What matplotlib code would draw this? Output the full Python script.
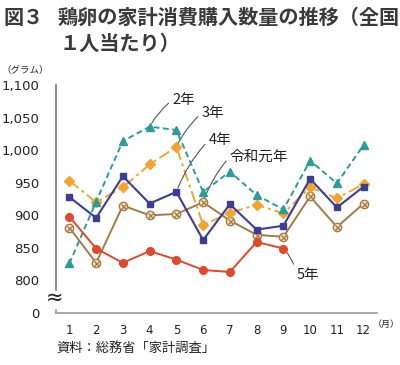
import numpy as np
import matplotlib.pyplot as plt

plt.rcParams['font.family'] = ['Noto Sans CJK JP', 'DejaVu Sans']

months = list(range(1, 13))
tick_labels = [str(m) for m in months]

# 鶏卵の家計消費購入数量（グラム）
r1 = [881, 827, 915, 900, 902, 920, 892, 870, 867, 929, 882, 918]      # 令和元年
r2 = [826, 921, 1014, 1036, 1031, 936, 967, 931, 909, 984, 949, 1008]  # 2年
r3 = [953, 920, 943, 978, 1005, 885, 904, 916, 903, 943, 926, 948]     # 3年
r4 = [928, 896, 960, 918, 936, 862, 917, 878, 884, 956, 912, 944]      # 4年
r5 = [898, 849, 827, 845, 832, 816, 813, 859, 849]                     # 5年

y_ticks = [750, 800, 850, 900, 950, 1000, 1050, 1100]
y_tick_labels = ['0', '800', '850', '900', '950', '1,000', '1,050', '1,100']

c2 = '#2b9c9a'
c3 = '#f2a52e'
c4 = '#3b3e94'
cr = '#a67a45'
c5 = '#e2482b'

fig = plt.figure(figsize=(4, 3.65), dpi=100)
ax = fig.add_axes([0.14, 0.1425, 0.8025, 0.6245])

ax.plot(months, r1, color=cr, lw=1.4, marker='o', ms=6, mfc='#f4e4c0', mec=cr, mew=1.0, zorder=3)
ax.plot(months, r1, ls='none', marker='x', ms=3.6, mec=cr, mew=1.0, zorder=4)
ax.plot(months, r3, color=c3, lw=1.4, ls=(0, (6, 2, 1.5, 2)), marker='D', ms=5, mec=c3, zorder=3)
ax.plot(months, r4, color=c4, lw=1.5, marker='s', ms=5, zorder=4)
ax.plot(months, r2, color=c2, lw=1.4, ls=(0, (3, 1.8)), marker='^', ms=5.5, zorder=5)
ax.plot(months[:len(r5)], r5, color=c5, lw=1.4, marker='o', ms=5.5, zorder=5)

ax.set_xlim(0.5, 12.5)
ax.set_ylim(750, 1100)
ax.set_xticks(months)
ax.set_xticklabels(tick_labels, fontsize=8.5, family='DejaVu Sans', color='#222')
ax.set_yticks(y_ticks)
ax.set_yticklabels(y_tick_labels, fontsize=9.5, family='DejaVu Sans', color='#222')
ax.tick_params(axis='both', length=0)
ax.tick_params(axis='y', pad=12)
ax.tick_params(axis='x', pad=8)

for s in ['top', 'right', 'left']:
    ax.spines[s].set_visible(False)
ax.spines['bottom'].set_color('#999999')
ax.spines['bottom'].set_linewidth(1.2)

# broken y axis
ax.plot([0, 0], [0.1, 1], transform=ax.transAxes, color='#777777', lw=1.2, clip_on=False)
ax.plot([0, 0], [0, 0.015], transform=ax.transAxes, color='#999999', lw=1.2, clip_on=False)
ax.text(-0.005, 0.065, '≈', transform=ax.transAxes, fontsize=15, family='DejaVu Sans',
        ha='center', va='center', color='#222')

# leader labels
lead = dict(arrowstyle='-', color='#555555', lw=0.8, shrinkA=1, shrinkB=3,
            relpos=(0, 0.5), connectionstyle='arc3,rad=0.1')
ax.annotate('2年', xy=(4, r2[3]), xytext=(4.85, 1077), fontsize=10.5, va='center',
            color='#222', arrowprops=lead, annotation_clip=False)
ax.annotate('3年', xy=(5, r3[4]), xytext=(5.95, 1057), fontsize=10.5, va='center',
            color='#222', arrowprops=lead)
ax.annotate('4年', xy=(5, r4[4]), xytext=(6.2, 1015), fontsize=10.5, va='center',
            color='#222', arrowprops=lead)
ax.annotate('令和元年', xy=(6, r1[5]), xytext=(7.0, 990), fontsize=10.5, va='center',
            color='#222', arrowprops=lead)
ax.annotate('5年', xy=(9, r5[8]), xytext=(9.5, 808), fontsize=10.5, va='center',
            color='#222', arrowprops=dict(lead, connectionstyle='arc3,rad=0.15'))

fig.text(0.008, 0.953, '図３', fontsize=14.5, weight='bold', color='#3a3a3a', va='center')
fig.text(0.145, 0.953, '鶏卵の家計消費購入数量の推移（全国', fontsize=14.5, weight='bold',
         color='#3a3a3a', va='center')
fig.text(0.15, 0.882, '１人当たり）', fontsize=14.5, weight='bold', color='#3a3a3a', va='center')
fig.text(0.003, 0.808, '（グラム）', fontsize=6.8, color='#222', va='center')
fig.text(0.932, 0.11, '（月）', fontsize=6.5, color='#222', va='center')
fig.text(0.142, 0.046, '資料：総務省「家計調査」', fontsize=9.5, color='#222', va='center')

fig.savefig('out.png', dpi=100)
